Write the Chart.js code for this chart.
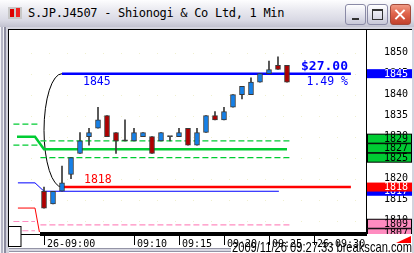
<!DOCTYPE html>
<html>
<head>
<meta charset="utf-8">
<script src="https://cdn.jsdelivr.net/npm/chart.js@4.4.1/dist/chart.umd.min.js"></script>
<style>
  html, body { margin: 0; padding: 0; }
  body { width: 414px; height: 253px; overflow: hidden; position: relative; background: #d4d4de; }
  #frame { position: absolute; left: 0; top: 27px; width: 8px; height: 226px;
    background: linear-gradient(90deg, #f2f2f6 0 1px, #b4b4c4 1px 3px, #f0f0f4 3px 4px, #8c8ca0 4px 6px, #d2d2dc 6px 8px); }
  #title { position: absolute; left: 0; top: 0; width: 414px; height: 27px; z-index: 2;
    background: linear-gradient(#fdfdfe, #e8e8ef 40%, #d9d9e4 75%, #c2c2d0); }
  #title .txt { position: absolute; left: 28px; top: 6px; font: 12px "DejaVu Sans Mono", monospace; letter-spacing: -0.3px; color: #000; }
  #title .ico { position: absolute; left: 8px; top: 7px; width: 14px; height: 12px; background: #c8c8c8; }
  #title .ico::before { content: ""; position: absolute; left: 2px; top: 2px; width: 4px; height: 8px; background: #d00; }
  #title .ico::after { content: ""; position: absolute; left: 8px; top: 1px; width: 4px; height: 9px; background: #e22; }
  .btn { position: absolute; top: 4px; width: 19px; height: 19px; border: 1px solid #8a8aa6; border-radius: 3px;
    background: linear-gradient(#ffffff, #e4e4ee 50%, #c8c8d8); }
  #bmin { left: 345px; } #bmax { left: 367px; }
  #bcls { left: 390px; border-color: #a24a3a; background: linear-gradient(#f09a84, #e0654c 45%, #c2412c); }
  #bmin::after { content: ""; position: absolute; left: 6px; top: 13px; width: 7px; height: 2px; background: #333; }
  #bmax::after { content: ""; position: absolute; left: 4px; top: 4px; width: 9px; height: 8px; border: 1px solid #333; border-top-width: 2px; }
  #bcls::before, #bcls::after { content: ""; position: absolute; left: 8px; top: 3px; width: 2px; height: 13px; background: #fff; }
  #bcls::before { transform: rotate(45deg); } #bcls::after { transform: rotate(-45deg); }
  canvas { position: absolute; left: 0; top: 0; z-index: 1; }
</style>
</head>
<body>
<div id="frame"></div>
<div id="title">
  <div class="ico"></div>
  <div class="txt">S.JP.J4507 - Shionogi &amp; Co Ltd, 1 Min</div>
  <div class="btn" id="bmin"></div><div class="btn" id="bmax"></div><div class="btn" id="bcls"></div>
</div>
<canvas id="chart" width="414" height="253"></canvas>
<script>
// minutes after 09:00 for each 1 min bar
const minutes = [0,1,2,3,4,5,6,7,8,9,10,11,12,13,14,15,16,17,18,19,20,21,22,23,24,25,26,27];
const opens  = [1817,1814,1817,1821,1826,1830,1832,1835,1831,1829,1829,1830,1830,1829,1830,1830,1832,1828,1831,1835,1834,1837,1840,1840,1843,1845,1847,1847];
const highs  = [1818,1817,1823,1825,1831,1832,1837,1835,1831,1834,1832,1831,1830,1831,1830,1832,1832,1832,1835,1836,1837,1840,1842,1844,1845,1848,1849,1847];
const lows   = [1813,1814,1817,1820,1826,1828,1832,1830,1826,1829,1829,1830,1826,1829,1829,1830,1828,1828,1831,1834,1834,1837,1839,1840,1843,1845,1846,1843];
const closes = [1813,1817,1819,1825,1829,1831,1834,1830,1829,1829,1831,1831,1826,1831,1830,1831,1828,1831,1835,1834,1836,1840,1842,1843,1845,1846,1846,1843];

const xTickMinutes = [0, 10, 15, 20, 25, 30];
const xTickLabels = ['26-09:00', '09:10', '09:15', '09:20', '09:25', '26-09:30'];
const yTickValues = [1850, 1845, 1840, 1835, 1830, 1825, 1820, 1815, 1810];

// levels: [minute, price] points
const highLevel = [[2, 1845], [34.1, 1845]];
const lowLevel = [[2, 1818], [34.1, 1818]];
const prevLine = [[-2.9, 1819], [-1, 1819], [0, 1817], [26.1, 1817]];
const greenMid = [[-3, 1830], [-1, 1830], [0, 1827], [27, 1827]];
const greenUpOld = [[-3.4, 1833], [-0.4, 1833]];
const greenLoOld = [[-3.4, 1828], [-0.4, 1828]];
const greenUp = [[-0.4, 1829], [27.4, 1829]];
const greenLo = [[-0.4, 1825], [27.4, 1825]];
const pinkOldA = [[-3.4, 1809.8], [-1, 1809.8]];
const pinkOldB = [[-3.4, 1807.6], [-1, 1807.6]];
const pinkLevel = [[-0.4, 1809], [27.4, 1809]];
const redOld = [[-2.9, 1813], [-1, 1813], [-0.4, 1806]];

// right axis price markers
const greenMarks = [1825, 1827, 1829];
const pinkMarks = [1807, 1809];
const blueMarks = [1817, 1845];
const redMarks = [1818];

const UP = '#1580e8', DOWN = '#b00000', EDGE = '#383838';
const BLUE = '#0000ff', RED = '#ff0000', GREEN = '#00cc33', PINK = '#ff8cc0';
const MONO = '"DejaVu Sans Mono", monospace';

function pts(a) { return a.map(p => ({ x: p[0], y: p[1] })); }
function lvl(a, color, width, dash) {
  return { type: 'line', data: pts(a), borderColor: color, borderWidth: width, borderDash: dash || [],
    pointRadius: 0, tension: 0, order: 5 };
}

const chrome = {
  id: 'chrome',
  beforeDraw(c) {
    const g = c.ctx;
    g.save();
    g.fillStyle = '#fff';
    g.fillRect(9, 29, 403, 224);
    g.restore();
  },
  beforeDatasetsDraw(c) {
    const g = c.ctx, xs = c.scales.x, ys = c.scales.y, a = c.chartArea;
    g.save();
    g.strokeStyle = '#efefcf'; g.lineWidth = 1; g.setLineDash([1, 17]);
    yTickValues.forEach(v => {
      const py = Math.round(ys.getPixelForValue(v)) + 0.5;
      g.beginPath(); g.moveTo(a.left + 22, py); g.lineTo(a.right, py); g.stroke();
    });
    g.setLineDash([]);
    // bracket between the two range levels
    const cx = xs.getPixelForValue(highLevel[0][0]), x0 = xs.getPixelForValue(0);
    const yT = ys.getPixelForValue(highLevel[0][1]), yB = ys.getPixelForValue(lowLevel[0][1]);
    g.strokeStyle = '#000'; g.lineWidth = 1;
    g.beginPath(); g.ellipse(cx, (yT + yB) / 2, cx - x0, (yB - yT) / 2, 0, Math.PI / 2, Math.PI * 1.5); g.stroke();
    g.restore();
  },
  afterDatasetsDraw(c) {
    const g = c.ctx, xs = c.scales.x, ys = c.scales.y;
    const hi = highLevel[0][1], lo = lowLevel[0][1];
    const yH = ys.getPixelForValue(hi), yL = ys.getPixelForValue(lo);
    const x1 = xs.getPixelForValue(highLevel[0][0]) + 21;
    g.save();
    g.textBaseline = 'alphabetic';
    g.textAlign = 'left';
    g.font = '11.5px ' + MONO;
    g.fillStyle = BLUE; g.fillText(String(hi), x1, yH + 11.5);
    g.fillStyle = RED; g.fillText(String(lo), x1 + 1, yL - 4);
    g.textAlign = 'right';
    g.fillStyle = BLUE;
    g.font = 'bold 13px ' + MONO;
    g.fillText('$' + (hi - lo).toFixed(2), 348, yH - 3.5);
    g.font = '11.5px ' + MONO;
    g.fillText((100 * (hi - lo) / lo).toFixed(2) + ' %', 348, yH + 11.5);
    g.restore();
  },
  afterDraw(c) {
    const g = c.ctx, xs = c.scales.x, ys = c.scales.y, a = c.chartArea;
    g.save();
    g.fillStyle = '#000';
    const barStart = Math.round(xs.getPixelForValue(-0.4));
    g.fillRect(barStart, a.bottom, a.right - barStart + 1, 4);
    g.fillRect(21, a.bottom + 2, barStart - 21, 1);
    g.fillRect(8, 29, 1, 197);
    g.fillRect(8, 29, 404, 1);
    g.fillRect(a.right, 29, 1, 205);
    g.strokeStyle = '#000'; g.lineWidth = 1;
    xTickMinutes.forEach(v => {
      const px = Math.round(xs.getPixelForValue(v)) + 0.5;
      g.beginPath(); g.moveTo(px, a.bottom + 4); g.lineTo(px, a.bottom + 13); g.stroke();
    });
    // right axis markers
    g.save();
    g.beginPath(); g.rect(a.right + 1, 29, 48, a.bottom + 2 - 29); g.clip();
    const box = (v, yc, fill, ink, edge) => {
      g.fillStyle = fill;
      g.fillRect(a.right + 1, yc - 4.5, 45, 9);
      if (edge) { g.strokeStyle = '#000'; g.strokeRect(a.right + 1.5, yc - 4.5, 44, 9); }
      g.fillStyle = ink; g.font = '10px ' + MONO; g.textAlign = 'right'; g.textBaseline = 'middle';
      g.fillText(String(v), 408, yc + 0.5);
    };
    const stack = (vals, fill, ink, edge) => {
      let prev = Infinity;
      vals.forEach(v => {
        const yc = Math.min(ys.getPixelForValue(v), prev - 9.5);
        box(v, yc, fill, ink, edge); prev = yc;
      });
    };
    stack(greenMarks, GREEN, '#000', true);
    stack(pinkMarks, PINK, '#000', true);
    blueMarks.forEach(v => box(v, ys.getPixelForValue(v), BLUE, '#fff', false));
    redMarks.forEach(v => box(v, ys.getPixelForValue(v), RED, '#fff', false));
    g.restore();
    // bottom-left box and scroll strip
    g.fillStyle = '#fff'; g.fillRect(9, 226, 12, 21);
    g.strokeStyle = '#000'; g.strokeRect(8.5, 226.5, 12.5, 20);
    g.fillStyle = '#9494a6'; g.fillRect(9, 248, 222, 1); g.fillRect(9, 251, 222, 1);
    g.fillStyle = '#d8d8e2'; g.fillRect(9, 249, 222, 2);
    // red corner mark
    g.fillStyle = '#ff0000';
    g.beginPath(); g.moveTo(396, 243); g.lineTo(411, 236); g.lineTo(411, 243); g.closePath(); g.fill();
    // time stamp
    const s = '2009/11/26 09:27:33 breakscan.com';
    g.font = '15px "Liberation Sans", Arial, sans-serif';
    const w = g.measureText(s).width;
    g.translate(232, 251.5); g.scale(180 / w, 1);
    g.fillStyle = '#000'; g.textAlign = 'left'; g.textBaseline = 'alphabetic';
    g.fillText(s, 0, 0);
    g.restore();
  }
};

const ctx = document.getElementById('chart').getContext('2d');
new Chart(ctx, {
  type: 'bar',
  data: {
    datasets: [
      { type: 'bar', data: minutes.map((m, i) => ({ x: m, y: [opens[i], closes[i]] })),
        backgroundColor: minutes.map((m, i) => closes[i] > opens[i] ? UP : closes[i] < opens[i] ? DOWN : EDGE),
        borderColor: EDGE, borderWidth: 1, borderSkipped: false, barThickness: 5, minBarLength: 1,
        grouped: false, order: 0 },
      { type: 'bar', data: minutes.map((m, i) => ({ x: m, y: [lows[i], highs[i]] })),
        backgroundColor: EDGE, borderWidth: 0, barThickness: 1, grouped: false, order: 1 },
      lvl(greenUpOld, GREEN, 1.2, [6, 3]),
      lvl(greenLoOld, GREEN, 1.2, [6, 3]),
      lvl(greenUp, GREEN, 1.2, [6, 3]),
      lvl(greenLo, GREEN, 1.2, [6, 3]),
      lvl(greenMid, GREEN, 2.5),
      lvl(pinkOldA, PINK, 1.2, [6, 3]),
      lvl(pinkOldB, PINK, 1.2, [6, 3]),
      lvl(pinkLevel, PINK, 1.2, [6, 3]),
      lvl(redOld, RED, 1),
      lvl(prevLine, BLUE, 1),
      lvl(lowLevel, RED, 2.5),
      lvl(highLevel, BLUE, 2.5)
    ]
  },
  options: {
    responsive: false,
    animation: false,
    events: [],
    layout: { padding: { left: 9, top: 30, right: 6, bottom: 0 } },
    plugins: { legend: { display: false }, tooltip: { enabled: false } },
    scales: {
      x: {
        type: 'linear', min: -3.89, max: 35.78, offset: false,
        afterFit: s => { s.height = 21; s.paddingLeft = 0; s.paddingRight = 0; },
        afterBuildTicks: s => { s.ticks = xTickMinutes.map(v => ({ value: v })); },
        grid: { display: false, offset: false }, border: { display: false },
        ticks: { autoSkip: false, maxRotation: 0, align: 'start', labelOffset: 3, padding: -2,
          font: { family: 'DejaVu Sans Mono', size: 10 }, color: '#000',
          callback: (v, i) => xTickLabels[i] }
      },
      y: {
        position: 'right', min: 1807.3, max: 1855.4,
        afterFit: s => { s.width = 42; s.paddingTop = 0; s.paddingBottom = 0; },
        afterBuildTicks: s => { s.ticks = yTickValues.map(v => ({ value: v })); },
        grid: { display: false }, border: { display: false },
        ticks: { crossAlign: 'far', padding: 18, font: { family: 'DejaVu Sans Mono', size: 10 }, color: '#000',
          callback: v => String(v) }
      }
    }
  },
  plugins: [chrome]
});
</script>
</body>
</html>
